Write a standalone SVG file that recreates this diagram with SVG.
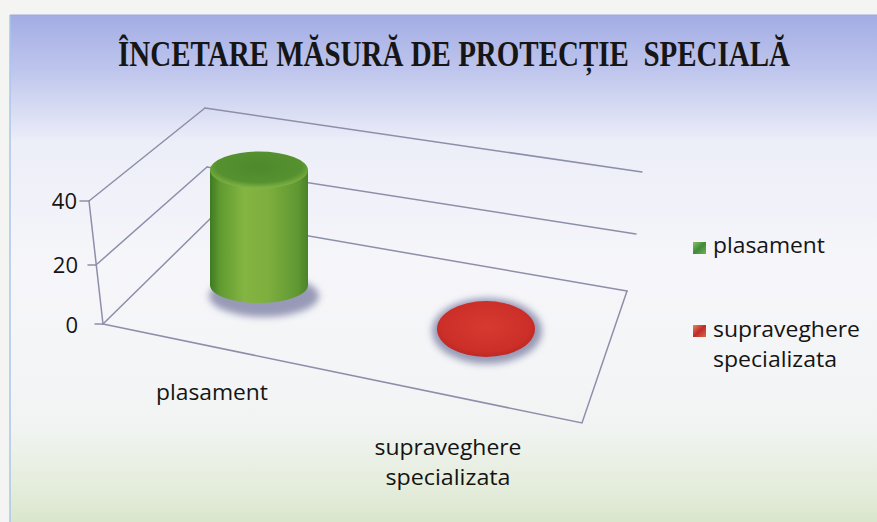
<svg xmlns="http://www.w3.org/2000/svg" width="877" height="522" viewBox="0 0 877 522">
<defs>
<linearGradient id="bg" x1="0" y1="0" x2="0" y2="1">
<stop offset="0" stop-color="#a3ade4"/>
<stop offset="0.1" stop-color="#bcc3ec"/>
<stop offset="0.25" stop-color="#eceef8"/>
<stop offset="0.5" stop-color="#f6f6fa"/>
<stop offset="0.8" stop-color="#f2f4f4"/>
<stop offset="0.92" stop-color="#e6eede"/>
<stop offset="1" stop-color="#dae6cc"/>
</linearGradient>
<linearGradient id="cylBody" x1="0" y1="0" x2="1" y2="0">
<stop offset="0" stop-color="#3f7a22"/>
<stop offset="0.1" stop-color="#5f9a30"/>
<stop offset="0.35" stop-color="#84b542"/>
<stop offset="0.6" stop-color="#7dae3e"/>
<stop offset="0.9" stop-color="#5f9732"/>
<stop offset="1" stop-color="#4a8228"/>
</linearGradient>
<radialGradient id="cylTop" cx="0.5" cy="0.4" r="0.62">
<stop offset="0" stop-color="#4e8a2c"/>
<stop offset="0.7" stop-color="#55912f"/>
<stop offset="1" stop-color="#8aba4a"/>
</radialGradient>
<radialGradient id="redDisk" cx="0.5" cy="0.45" r="0.6">
<stop offset="0" stop-color="#d63a30"/>
<stop offset="0.75" stop-color="#cc2f28"/>
<stop offset="1" stop-color="#b52622"/>
</radialGradient>
<linearGradient id="legGreen" x1="0" y1="0" x2="1" y2="1">
<stop offset="0" stop-color="#8cc060"/>
<stop offset="0.5" stop-color="#3f8a3a"/>
<stop offset="1" stop-color="#76b050"/>
</linearGradient>
<linearGradient id="legRed" x1="0" y1="0" x2="1" y2="1">
<stop offset="0" stop-color="#e08a60"/>
<stop offset="0.5" stop-color="#c02a2a"/>
<stop offset="1" stop-color="#d86a48"/>
</linearGradient>
<filter id="blur" x="-30%" y="-30%" width="160%" height="160%">
<feGaussianBlur stdDeviation="3.5"/>
</filter>
</defs>
<style>
.grid{stroke:#8e8eaa;stroke-width:1.5;fill:none;stroke-linecap:round}
.lbl{font-family:"Open Sans","Liberation Sans",sans-serif;font-size:22px;fill:#141414}
.title{font-family:"Liberation Serif","Times New Roman",serif;font-weight:bold;font-size:29px;fill:#161616}
.shadow{fill:#8083a6;opacity:0.8}
</style>
<rect x="0" y="0" width="877" height="522" fill="#f4f4f2"/>
<rect x="10" y="15" width="867" height="507" fill="url(#bg)"/>
<line x1="10" y1="15" x2="10" y2="522" stroke="#a8c6ea" stroke-width="1.5"/>
<line x1="10" y1="15" x2="877" y2="15" stroke="#9fa9dc" stroke-width="1"/>

<g id="title" transform="translate(454,66) scale(1,1.25)">
<text class="title" x="0" y="0" text-anchor="middle" xml:space="preserve">ÎNCETARE MĂSURĂ DE PROTECȚIE  SPECIALĂ</text>
</g>

<g id="walls">
<line class="grid" x1="89" y1="201" x2="205" y2="108"/>
<line class="grid" x1="96" y1="265" x2="207" y2="167"/>
<line class="grid" x1="103" y1="324" x2="210" y2="219"/>
<line class="grid" x1="205" y1="108" x2="642" y2="172"/>
<line class="grid" x1="207" y1="167" x2="636" y2="234"/>
<line class="grid" x1="210" y1="219" x2="627" y2="291"/>
<polyline class="grid" points="103,324 582,423 627,291"/>
<line class="grid" x1="89" y1="201" x2="103" y2="324"/>
<line class="grid" x1="80" y1="201" x2="89" y2="201"/>
<line class="grid" x1="88" y1="265" x2="96" y2="265"/>
<line class="grid" x1="95" y1="324" x2="103" y2="324"/>
</g>

<g id="axis-labels">
<text class="lbl" x="77" y="209" text-anchor="end">40</text>
<text class="lbl" x="78" y="273" text-anchor="end">20</text>
<text class="lbl" x="78" y="333" text-anchor="end">0</text>
<text class="lbl" x="212" y="400" text-anchor="middle" textLength="112" lengthAdjust="spacingAndGlyphs">plasament</text>
<text class="lbl" x="448" y="455" text-anchor="middle" textLength="147" lengthAdjust="spacingAndGlyphs">supraveghere</text>
<text class="lbl" x="448" y="485" text-anchor="middle" textLength="125" lengthAdjust="spacingAndGlyphs">specializata</text>
</g>

<g id="series-plasament">
<ellipse class="shadow" cx="264" cy="296" rx="55" ry="21" filter="url(#blur)"/>
<path d="M210,170 L210,285 A49,18 0 0 0 308,285 L308,170 Z" fill="url(#cylBody)"/>
<ellipse cx="259" cy="170" rx="49" ry="18.5" fill="url(#cylTop)"/>
</g>

<g id="series-supraveghere">
<ellipse class="shadow" cx="487" cy="331" rx="55" ry="33" filter="url(#blur)"/>
<ellipse cx="486" cy="329" rx="49" ry="28" fill="url(#redDisk)"/>
</g>

<g id="legend">
<rect x="693" y="242" width="13" height="12" fill="url(#legGreen)"/>
<text class="lbl" x="713" y="253" textLength="112" lengthAdjust="spacingAndGlyphs">plasament</text>
<rect x="693" y="325" width="13" height="12" fill="url(#legRed)"/>
<text class="lbl" x="713" y="337" textLength="147" lengthAdjust="spacingAndGlyphs">supraveghere</text>
<text class="lbl" x="713" y="367" textLength="124" lengthAdjust="spacingAndGlyphs">specializata</text>
</g>
</svg>
